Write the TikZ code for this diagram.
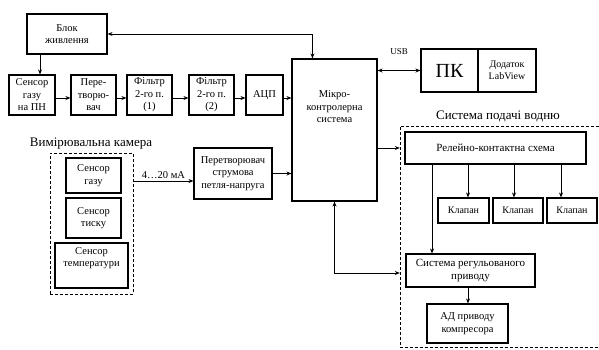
\documentclass[tikz,border=0pt]{standalone}
\usepackage{fontspec}
\setmainfont{Liberation Serif}
\usetikzlibrary{arrows.meta}
\begin{document}
\begin{tikzpicture}[x=1pt,y=-1pt,
  box/.style={draw,line width=1.1pt,rectangle,inner sep=1pt,align=center,
    font=\fontsize{10.5}{12.5}\selectfont},
  dbox/.style={rectangle,inner sep=0pt},
  dline/.style={line width=1pt,dash pattern=on 3pt off 2pt},
  arr/.style={line width=0.9pt,-{Stealth[length=5pt,width=4pt]}},
  darr/.style={line width=0.9pt,{Stealth[length=5pt,width=4pt]}-{Stealth[length=5pt,width=4pt]}},
  lbl/.style={font=\fontsize{13}{15}\selectfont}
]
\useasboundingbox (0,0) rectangle (599,349);
% top row
\node[box,minimum width=80pt,minimum height=40pt] (blok) at (67,34) {Блок\\живлення};
\node[box,minimum width=46pt,minimum height=40pt] (s1) at (32,95) {Сенсор\\газу\\на ПН};
\node[box,minimum width=45pt,minimum height=40pt] (s2) at (93.5,95) {Пере-\\творю-\\вач};
\node[box,minimum width=45pt,minimum height=40pt] (f1) at (149.5,95) {Фільтр\\2-го п.\\(1)};
\node[box,minimum width=45pt,minimum height=40pt] (f2) at (211.5,95) {Фільтр\\2-го п.\\(2)};
\node[box,minimum width=37pt,minimum height=40pt] (adc) at (264.5,95) {АЦП};
\node[box,minimum width=85pt,minimum height=142pt] (mk) at (334.5,130) {};
\node[align=center,font=\fontsize{10.5}{12.5}\selectfont] (mklabel) at (334.5,107) {Мікро-\\контролерна\\система};
% PC
\node[box,minimum width=57pt,minimum height=43pt,font=\fontsize{20}{22}\selectfont] (pk) at (449.5,70.5) {ПК};
\node[box,minimum width=58pt,minimum height=43pt,font=\fontsize{10}{12}\selectfont] (lv) at (507,70.5) {Додаток\\LabView};
\node[font=\fontsize{9}{11}\selectfont] (usb) at (399,52) {USB};
% water supply system (frame runs off the right edge)
\node[dbox,minimum width=210pt,minimum height=221.5pt] (water) at (505,236.75) {};
\draw[dline] (599,126) -- (400,126) -- (400,347.5) -- (599,347.5);
\node[lbl] (waterlbl) at (498,116) {Система подачі водню};
\node[box,minimum width=181pt,minimum height=32pt,font=\fontsize{11}{13}\selectfont] (relay) at (495.5,148) {Релейно-контактна схема};
\node[box,minimum width=51pt,minimum height=25pt,font=\fontsize{10}{12}\selectfont] (k1) at (463.5,210.5) {Клапан};
\node[box,minimum width=50pt,minimum height=25pt,font=\fontsize{10}{12}\selectfont] (k2) at (518,210.5) {Клапан};
\node[box,minimum width=50pt,minimum height=25pt,font=\fontsize{10}{12}\selectfont] (k3) at (572,210.5) {Клапан};
\node[box,minimum width=129pt,minimum height=33pt,font=\fontsize{11}{13}\selectfont] (sr) at (470.5,270.5) {Система регульованого\\приводу};
\node[box,minimum width=81pt,minimum height=39pt] (ad) at (467.5,323.5) {АД приводу\\компресора};
% measuring chamber
\node[dbox,draw,dline,minimum width=83pt,minimum height=141pt] (cam) at (91.5,223.5) {};
\node[lbl] (camlbl) at (91,144) {Вимірювальна камера};
\node[box,minimum width=55pt,minimum height=35pt] (sg) at (93.5,175.5) {Сенсор\\газу};
\node[box,minimum width=55pt,minimum height=40pt] (st) at (93.5,218) {Сенсор\\тиску};
\node[box,minimum width=73pt,minimum height=45pt] (stemp) at (91.5,265.5) {Сенсор\\температури\\[4pt]};
\node[box,minimum width=78pt,minimum height=51pt] (conv) at (233,173.5) {Перетворювач\\струмова\\петля-напруга};
% connectors
\draw[darr] (blok.east) -| ([xshift=21pt]mk.north west);
\draw[arr] ([xshift=-27pt]blok.south) -- ([xshift=8pt]s1.north);
\draw[arr] ([yshift=-3pt]s1.east) -- ([yshift=-3pt]s2.west);
\draw[arr] ([yshift=-3pt]s2.east) -- ([yshift=-3pt]f1.west);
\draw[arr] ([yshift=-3pt]f1.east) -- ([yshift=-3pt]f2.west);
\draw[arr] ([yshift=-3pt]f2.east) -- ([yshift=-3pt]adc.west);
\draw[arr] ([yshift=-3pt]adc.east) -- ([yshift=-3pt]adc.east -| mk.west);
\draw[darr] (mk.east |- pk.west) -- (pk.west);
\draw[arr] (mk.east |- relay.west) -- (water.west |- relay.west);
\draw[arr] (relay.south -| 468,0) -- (k1.north -| 468,0);
\draw[arr] (relay.south -| 514,0) -- (k2.north -| 514,0);
\draw[arr] (relay.south -| 561,0) -- (k3.north -| 561,0);
\draw[arr] (relay.south -| 432,0) -- (sr.north -| 432,0);
\draw[arr] (sr.south -| 468,0) -- (ad.north -| 468,0);
\draw[darr] (mk.south) |- (water.west |- 0,273);
\draw[arr] (cam.east |- 0,181) -- node[above,font=\fontsize{10.5}{12.5}\selectfont,yshift=-1pt] {4…20 мА} (conv.west |- 0,181);
\draw[arr] (conv.east) -- (mk.west |- conv.east);
\end{tikzpicture}
\end{document}
